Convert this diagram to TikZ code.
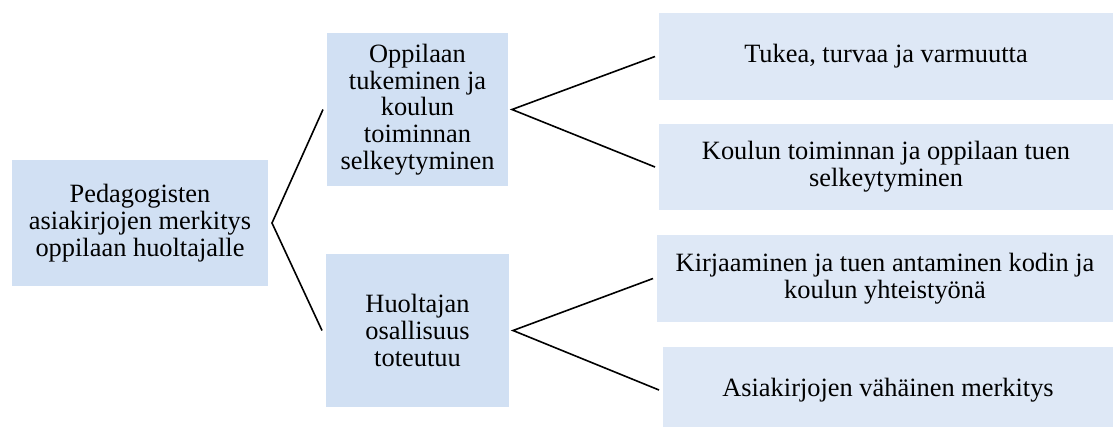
\documentclass[tikz,border=0pt]{standalone}
\usepackage{fontspec}
\setmainfont{Liberation Serif}
\definecolor{boxA}{RGB}{209,224,243}
\definecolor{boxB}{RGB}{222,232,246}
\tikzset{
  px/.style={x=0.75pt,y=-0.75pt},
  base/.style={inner sep=0pt, outer sep=3pt, align=center, font=\fontsize{19.8}{20}\selectfont, text=black},
  boxa/.style={base, fill=boxA},
  boxb/.style={base, fill=boxB},
  link/.style={draw=black, line width=1.2pt}
}
\begin{document}
\begin{tikzpicture}[px]
\useasboundingbox (0,0) rectangle (1113,426);
\node[boxa, minimum width=256*0.75pt, minimum height=126*0.75pt] (b1) at (140,223)
  {Pedagogisten\\asiakirjojen merkitys\\oppilaan huoltajalle};
\node[boxa, minimum width=181*0.75pt, minimum height=153*0.75pt] (b2) at (417.5,109.5)
  {Oppilaan\\tukeminen ja\\koulun\\toiminnan\\selkeytyminen};
\node[boxa, minimum width=183*0.75pt, minimum height=153*0.75pt] (b3) at (417.5,330.5)
  {Huoltajan\\osallisuus\\toteutuu};
\node[boxb, minimum width=454*0.75pt, minimum height=87*0.75pt] (b4) at (886,56.5)
  {Tukea, turvaa ja varmuutta};
\node[boxb, minimum width=454*0.75pt, minimum height=86*0.75pt] (b5) at (886,167)
  {Koulun toiminnan ja oppilaan tuen\\selkeytyminen};
\node[boxb, minimum width=456*0.75pt, minimum height=87*0.75pt] (b6) at (885,278.5)
  {Kirjaaminen ja tuen antaminen kodin ja\\koulun yhteistyönä};
\node[boxb, minimum width=450*0.75pt, minimum height=86*0.75pt] (b7) at (888,390)
  {Asiakirjojen vähäinen merkitys};
\draw[link] (b2.west) -- (b1.east) -- (b3.west);
\draw[link] (b4.west) -- (b2.east) -- (b5.west);
\draw[link] (b6.west) -- (b3.east) -- (b7.west);
\end{tikzpicture}
\end{document}
